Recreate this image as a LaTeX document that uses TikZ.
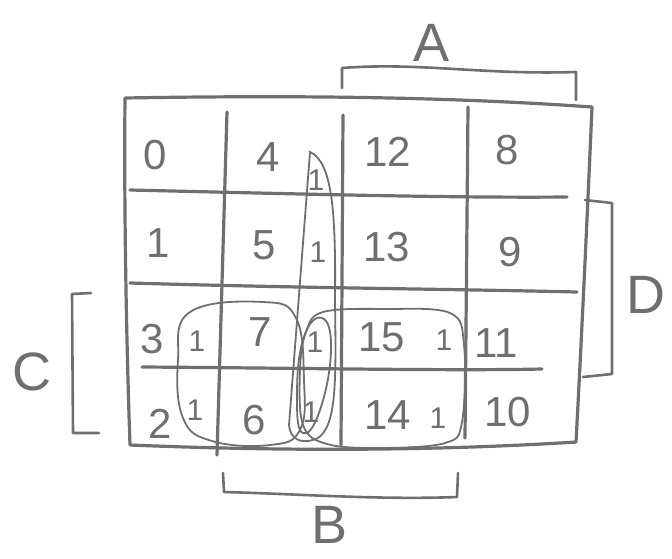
\documentclass[tikz,border=0pt]{standalone}
\usepackage{fontspec}
\setmainfont{Liberation Sans}
\definecolor{pencil}{HTML}{6F6F6F}
\begin{document}
\begin{tikzpicture}[x=1pt,y=-1pt,
  grid/.style={draw=pencil,line width=3.2pt,line cap=round,line join=round},
  loop/.style={draw=pencil,line width=1.8pt},
  brk/.style={draw=pencil,line width=2.6pt,line cap=round,line join=round},
  num/.style={text=pencil,font=\fontsize{42}{48}\selectfont,inner sep=0pt},
  one/.style={text=pencil,font=\fontsize{30}{36}\selectfont,inner sep=0pt},
  lab/.style={text=pencil,font=\fontsize{54}{60}\selectfont,inner sep=0pt}]
\useasboundingbox (0,0) rectangle (672,558);
% outer border
\draw[grid] (125,98) .. controls (300,95) and (450,97) .. (592,107)
  .. controls (588,200) and (582,330) .. (576,442)
  .. controls (450,450) and (300,452) .. (130,445)
  .. controls (126,330) and (124,200) .. (125,98);
% inner lines
\draw[grid] (227,112) -- (217,455);
\draw[grid] (343,115) -- (341,445);
\draw[grid] (468,107) -- (465,438);
\draw[grid] (130,190) .. controls (300,194) and (450,198) .. (567,197);
\draw[grid] (130,283) .. controls (300,288) and (450,289) .. (577,292);
\draw[grid] (142,367) .. controls (300,368) and (450,371) .. (542,369);
% cell numbers
\node[num] (n0) at (155,155) {0};
\node[num] (n4) at (268,157) {4};
\node[num] (n12) at (388,152) {12};
\node[num] (n8) at (507,150) {8};
\node[num] (n1) at (158,243) {1};
\node[num] (n5) at (264,245) {5};
\node[num] (n13) at (387,247) {13};
\node[num] (n9) at (510,252) {9};
\node[num] (n3) at (152,339) {3};
\node[num] (n7) at (260,332) {7};
\node[num] (n15) at (382,337) {15};
\node[num] (n11) at (496,343) {11};
\node[num] (n2) at (160,424) {2};
\node[num] (n6) at (254,420) {6};
\node[num] (n14) at (388,415) {14};
\node[num] (n10) at (508,412) {10};
% ones
\node[one] (o4) at (316,180) {1};
\node[one] (o5) at (318,252) {1};
\node[one] (o3) at (197,341) {1};
\node[one] (o7) at (315,342) {1};
\node[one] (o15) at (444,340) {1};
\node[one] (o2) at (195,410) {1};
\node[one] (o6) at (311,412) {1};
\node[one] (o14) at (438,418) {1};
% loops
\draw[loop] (310,152) .. controls (332,162) and (336,210) .. (335,300)
  .. controls (336,380) and (337,425) .. (318,438)
  .. controls (300,446) and (290,438) .. (289,425) -- cycle;
\draw[loop] plot[smooth cycle,tension=0.7] coordinates
  {(190,312) (263,302) (296,318) (304,380) (300,430) (270,445) (212,441) (183,418) (178,360)};
\draw[loop] plot[smooth cycle,tension=0.8] coordinates
  {(322,318) (331,350) (320,410) (303,433) (297,400) (303,340)};
\draw[loop] plot[smooth cycle,tension=0.6] coordinates
  {(323,312) (385,309) (450,313) (464,345) (462,422) (445,443) (380,448) (327,444) (303,425) (300,370) (306,332)};
% brackets
\draw[brk] (342,88) -- (342,68) .. controls (420,62) and (480,75) .. (576,72) -- (576,100);
\draw[brk] (223,473) -- (224,492) .. controls (300,494) and (380,500) .. (457,497) -- (458,473);
\draw[brk] (91,293) -- (72,294) -- (73,433) -- (99,433);
\draw[brk] (585,200) -- (612,203) -- (612,374) -- (583,377);
% labels
\node[lab] (lA) at (432,43) {A};
\node[lab] (lB) at (330,525) {B};
\node[lab] (lC) at (32,372) {C};
\node[lab] (lD) at (646,295) {D};
\end{tikzpicture}
\end{document}
